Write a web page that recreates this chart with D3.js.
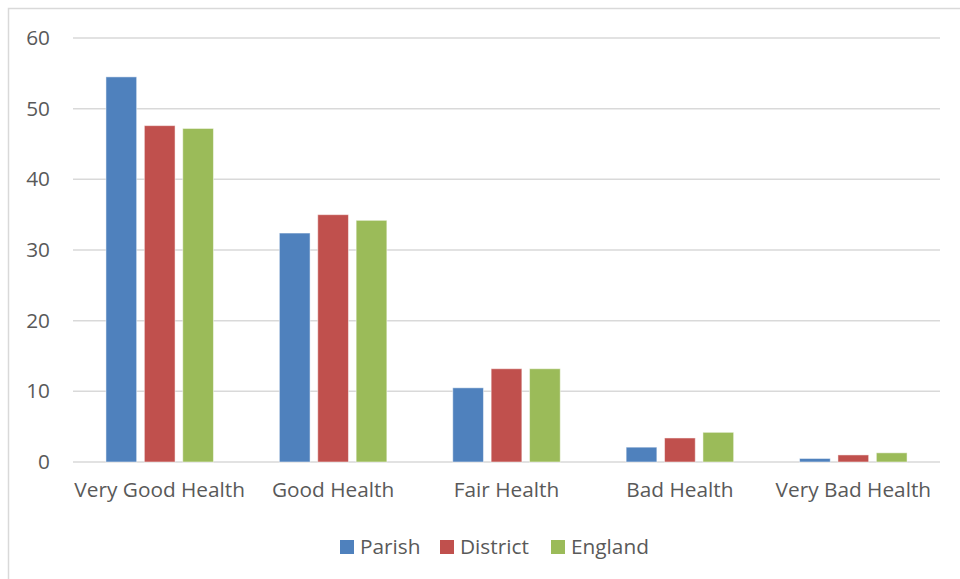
<!DOCTYPE html>
<html>
<head>
<meta charset="utf-8">
<script src="https://cdn.jsdelivr.net/npm/d3@7"></script>
<style>
  html, body { margin: 0; padding: 0; background: #fff; }
  svg { display: block; }
  text { font-family: "Open Sans", Lato, sans-serif; fill: #595959; }
</style>
</head>
<body>
<svg id="chart" width="960" height="579"></svg>
<script>
// Self-reported general health, percentage of residents
const categories = ["Very Good Health", "Good Health", "Fair Health", "Bad Health", "Very Bad Health"];
const seriesNames = ["Parish", "District", "England"];
const parish   = [54.5, 32.4, 10.5, 2.1, 0.5];
const district = [47.6, 35.0, 13.2, 3.4, 1.0];
const england  = [47.2, 34.2, 13.2, 4.2, 1.3];
const yTicks = [0, 10, 20, 30, 40, 50, 60];
const colors = ["#4F81BD", "#C0504D", "#9BBB59"];

const seriesValues = [parish, district, england];
const rows = categories.map((c, i) => ({
  category: c,
  values: seriesNames.map((s, j) => ({ series: s, value: seriesValues[j][i] }))
}));

const svg = d3.select("#chart");
const W = 960, H = 579;
const margin = { top: 38, right: 20, bottom: 117, left: 73 };
const plotW = W - margin.left - margin.right;
const plotH = H - margin.top - margin.bottom;
const fontSize = "20.8px";

// chart area frame
svg.append("rect")
  .attr("x", 8.5).attr("y", 8.5)
  .attr("width", W + 20).attr("height", H + 20)
  .attr("fill", "#fff").attr("stroke", "#D9D9D9").attr("stroke-width", 1.5);

const g = svg.append("g").attr("transform", `translate(${margin.left},${margin.top})`);

const x = d3.scaleBand().domain(categories).range([0, plotW]).paddingInner(0).paddingOuter(0);
const y = d3.scaleLinear().domain([0, 60]).range([plotH, 0]);

// gridlines
g.append("g")
  .selectAll("line")
  .data(yTicks)
  .join("line")
  .attr("x1", 0).attr("x2", plotW)
  .attr("y1", d => y(d)).attr("y2", d => y(d))
  .attr("stroke", "#D9D9D9").attr("stroke-width", 1.5);

// y-axis labels
const yAxis = g.append("g")
  .call(d3.axisLeft(y).tickValues(yTicks).tickSize(0).tickPadding(23));
yAxis.select(".domain").remove();
yAxis.selectAll("text")
  .style("font-size", fontSize)
  .attr("fill", "#595959");

// bars
const groupW = x.bandwidth() * 0.62;
const x1 = d3.scaleBand().domain(seriesNames)
  .range([(x.bandwidth() - groupW) / 2, (x.bandwidth() + groupW) / 2])
  .paddingInner(0.2).paddingOuter(0);

const color = d3.scaleOrdinal().domain(seriesNames).range(colors);

g.append("g")
  .selectAll("g")
  .data(rows)
  .join("g")
  .attr("transform", d => `translate(${x(d.category)},0)`)
  .selectAll("rect")
  .data(d => d.values)
  .join("rect")
  .attr("x", d => x1(d.series))
  .attr("y", d => y(d.value))
  .attr("width", x1.bandwidth())
  .attr("height", d => y(0) - y(d.value))
  .attr("fill", d => color(d.series))
  .attr("stroke", "#ffffff").attr("stroke-opacity", 0.5).attr("stroke-width", 1);

// category labels
const xAxis = g.append("g")
  .attr("transform", `translate(0,${plotH})`)
  .call(d3.axisBottom(x).tickSize(0).tickPadding(20));
xAxis.select(".domain").remove();
xAxis.selectAll("text")
  .style("font-size", fontSize)
  .attr("fill", "#595959");

// legend
const legend = svg.append("g").attr("transform", "translate(0,547)");
const legendX = [340, 440, 551];
const items = legend.selectAll("g")
  .data(seriesNames)
  .join("g")
  .attr("transform", (d, i) => `translate(${legendX[i]},0)`);
items.append("rect")
  .attr("x", 0).attr("y", -7)
  .attr("width", 14).attr("height", 14)
  .attr("fill", d => color(d));
items.append("text")
  .attr("x", 20).attr("y", 0)
  .attr("dy", "0.35em")
  .style("font-size", fontSize)
  .text(d => d);
</script>
</body>
</html>
